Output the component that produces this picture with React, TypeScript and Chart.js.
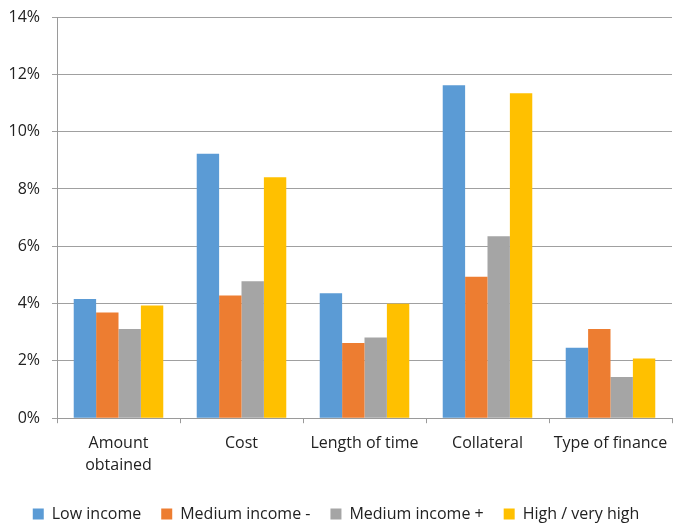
import React, { useEffect, useRef } from "react";
import { Chart, registerables } from "chart.js";

Chart.register(...registerables);

const categories: (string | string[])[] = [
  ["Amount", "obtained"],
  "Cost",
  "Length of time",
  "Collateral",
  "Type of finance",
];

const lowIncome = [4.16, 9.23, 4.36, 11.62, 2.46];
const mediumIncomeMinus = [3.69, 4.28, 2.62, 4.94, 3.11];
const mediumIncomePlus = [3.11, 4.78, 2.82, 6.35, 1.44];
const highIncome = [3.93, 8.41, 3.99, 11.34, 2.08];

const seriesNames = ["Low income", "Medium income -", "Medium income +", "High / very high"];
const seriesColors = ["#5B9BD5", "#ED7D31", "#A5A5A5", "#FFC000"];

const yMin = 0;
const yMax = 14;
const yStep = 2;

const FONT = "'Open Sans', sans-serif";

export default function App() {
  const canvasRef = useRef<HTMLCanvasElement | null>(null);

  useEffect(() => {
    document.body.style.margin = "0";
    const ctx = canvasRef.current;
    if (!ctx) return;
    const values = [lowIncome, mediumIncomeMinus, mediumIncomePlus, highIncome];
    const chart = new Chart(ctx, {
      type: "bar",
      data: {
        labels: categories,
        datasets: values.map((v, i) => ({
          label: seriesNames[i],
          data: v,
          backgroundColor: seriesColors[i],
          borderWidth: 0,
          categoryPercentage: 0.728,
          barPercentage: 1,
        })),
      },
      options: {
        animation: false,
        responsive: true,
        maintainAspectRatio: false,
        layout: { padding: { left: 0, right: 6, top: 17, bottom: 0 } },
        plugins: {
          tooltip: { enabled: false },
          legend: {
            position: "bottom",
            labels: {
              font: { family: FONT, size: 16 },
              color: "#222",
              boxWidth: 11,
              boxHeight: 11,
              padding: 20,
            },
          },
        },
        scales: {
          x: {
            grid: {
              drawOnChartArea: false,
              drawTicks: true,
              tickLength: 5,
              color: "#9a9a9a",
              offset: true,
            },
            border: { color: "#9a9a9a", width: 1 },
            ticks: {
              font: { family: FONT, size: 16, lineHeight: 1.4 },
              color: "#222",
              padding: 9,
              maxRotation: 0,
              autoSkip: false,
            },
          },
          y: {
            min: yMin,
            max: yMax,
            afterFit: (scale: any) => {
              scale.width = 57;
              scale.paddingTop = 0;
            },
            grid: {
              color: "#a0a0a0",
              tickLength: 5,
              lineWidth: 1,
            },
            border: { color: "#9a9a9a", width: 1 },
            ticks: {
              stepSize: yStep,
              font: { family: FONT, size: 16 },
              color: "#222",
              padding: 12,
              callback: (v: any) => `${v}%`,
            },
          },
        },
      },
    });
    return () => chart.destroy();
  }, []);

  return (
    <div style={{ position: "fixed", left: 0, top: 0, width: 678, height: 532, background: "#fff" }}>
      <canvas ref={canvasRef} />
    </div>
  );
}
